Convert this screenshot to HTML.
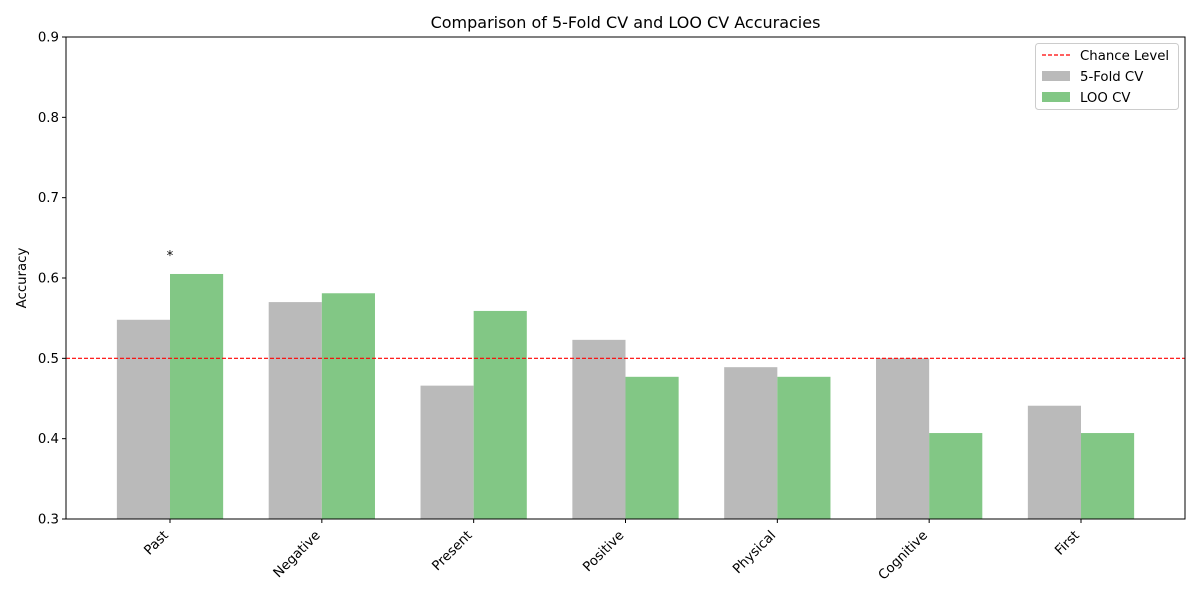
<!DOCTYPE html>
<html><head><meta charset="utf-8"><style>
body{margin:0;background:#fff;}
svg{display:block;font-family:"DejaVu Sans","Liberation Sans",sans-serif;}
</style></head><body>
<svg id="chart" width="1200" height="600">
<rect width="1200" height="600" fill="#fff"/>
<text x="625.5" y="28" font-size="16" text-anchor="middle">Comparison of 5-Fold CV and LOO CV Accuracies</text>
<text transform="translate(26,278) rotate(-90)" font-size="13.3" text-anchor="middle">Accuracy</text>
<g id="bars"></g>
<g id="yticks"></g>
<g id="xticks"></g>
<line x1="66" x2="1185" y1="358" y2="358" stroke="#ff0000" stroke-width="1.2" stroke-dasharray="4,2" id="chance"/>
<text x="170" y="260" font-size="13.3" text-anchor="middle">*</text>
<rect x="66" y="37" width="1119" height="482" fill="none" stroke="#000" stroke-width="1"/>
<g>
<rect x="1035.5" y="43.5" width="143" height="66" rx="3" fill="#fff" fill-opacity="0.8" stroke="#ccc"/>
<line x1="1042" x2="1070" y1="55" y2="55" stroke="#ff0000" stroke-width="1.2" stroke-dasharray="4,2"/>
<text x="1080" y="60" font-size="13.3">Chance Level</text>
<rect x="1042" y="71" width="28" height="10" fill="#bababa"/>
<text x="1080" y="81" font-size="13.3">5-Fold CV</text>
<rect x="1042" y="92" width="28" height="10" fill="#82c785"/>
<text x="1080" y="102" font-size="13.3">LOO CV</text>
</g>
</svg>
<script>
const categories=["Past","Negative","Present","Positive","Physical","Cognitive","First"];
const fiveFold=[0.548,0.570,0.466,0.523,0.489,0.500,0.441];
const loo=[0.605,0.581,0.559,0.477,0.477,0.407,0.407];
const yTicks=[0.3,0.4,0.5,0.6,0.7,0.8,0.9];
const chance=0.5;
const NS="http://www.w3.org/2000/svg";
const x0=66,x1=1185,y0=519,y1=37;
const xs=i=>x0+(i+0.685)/(categories.length-1+1.37)*(x1-x0);
const ys=v=>y0-(v-0.3)/(0.9-0.3)*(y0-y1);
const unit=(x1-x0)/(categories.length-1+1.37), bw=0.35*unit;
function mk(t,a,p){const e=document.createElementNS(NS,t);for(const k in a)e.setAttribute(k,a[k]);p.appendChild(e);return e;}
const cl=document.getElementById('chance');cl.setAttribute('y1',ys(chance));cl.setAttribute('y2',ys(chance));
const bars=document.getElementById('bars');
categories.forEach((c,i)=>{
 const cx=xs(i);
 const a=mk('rect',{x:cx-bw,y:ys(fiveFold[i]),width:bw,height:y0-ys(fiveFold[i]),fill:'#bababa'},bars);
 
 
 const b=mk('rect',{x:cx,y:ys(loo[i]),width:bw,height:y0-ys(loo[i]),fill:'#82c785'},bars);
 
 
 const xt=document.getElementById('xticks');
 mk('line',{x1:cx,x2:cx,y1:y0,y2:y0+4,stroke:'#000'},xt);
 const ax=cx-1, ay=y0+17;
 const t=mk('text',{x:ax,y:ay,'font-size':13.3,'text-anchor':'end',transform:`rotate(-45 ${ax} ${ay})`},xt);
 t.textContent=c;
 
 
});
const yt=document.getElementById('yticks');
yTicks.forEach(v=>{
 const y=ys(v);
 mk('line',{x1:x0-4,x2:x0,y1:y,y2:y,stroke:'#000'},yt);
 const t=mk('text',{x:x0-7,y:y+4.5,'font-size':13.3,'text-anchor':'end'},yt);
 t.textContent=v.toFixed(1);
 
 
});
</script>
</body></html>
